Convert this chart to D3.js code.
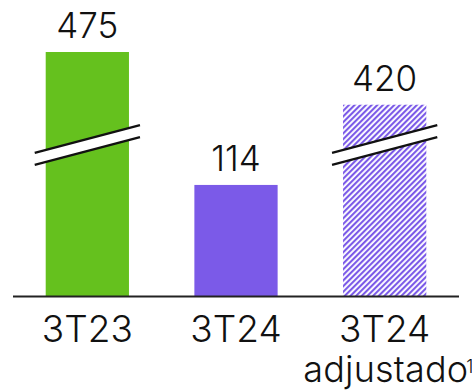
<!DOCTYPE html>
<html><head><meta charset="utf-8">
<script src="https://cdn.jsdelivr.net/npm/d3@7"></script>
<style>
html,body{margin:0;padding:0;background:#fff;}
svg text{font-family:"Inter",sans-serif;font-weight:300;fill:#111;}
</style></head>
<body>
<div id="chart"></div>
<script>
const categories = ["3T23", "3T24", "3T24 adjustado"];
const values = [475, 114, 420];
const barStyles = ["green", "purple", "hatch"];
const broken = [true, false, true];
const tickLines = [["3T23"], ["3T24"], ["3T24", "adjustado"]];
const superscripts = ["", "", "1"];

const W = 472, H = 390;
const svg = d3.select("#chart").append("svg").attr("width", W).attr("height", H);

const defs = svg.append("defs");
const pat = defs.append("pattern").attr("id", "hatch").attr("patternUnits", "userSpaceOnUse")
  .attr("width", 4).attr("height", 4).attr("patternTransform", "rotate(45)");
pat.append("rect").attr("width", 4).attr("height", 4).attr("fill", "#fff");
pat.append("rect").attr("width", 2.1).attr("height", 4).attr("fill", "#7b5ae8");

const colors = {green: "#65c11e", purple: "#7b5ae8", hatch: "url(#hatch)"};

const x = d3.scaleBand().domain(categories).range([13, 459]).paddingInner(0.44).paddingOuter(0.22);
// broken value axis: the segment between 155 and 378 is cut out
const y = d3.scaleLinear().domain([0, 155, 378, 475]).range([296, 145, 145, 52]);
const breakY = y(155);

const g = svg.append("g");
categories.forEach((c, i) => {
  const x0 = x(c), bw = x.bandwidth();
  g.append("rect").attr("x", x0).attr("y", y(values[i])).attr("width", bw)
    .attr("height", y(0) - y(values[i])).attr("fill", colors[barStyles[i]]);
  g.append("text").attr("x", x0 + bw / 2).attr("y", y(values[i]) - 14)
    .attr("text-anchor", "middle").attr("font-size", 35).text(values[i]);
  if (broken[i]) {
    const ext = 11, slope = -0.263, gap = 12;
    const xa = x0 - ext, xb = x0 + bw + ext, xm = x0 + bw / 2;
    const yl = (xx, off) => breakY + off + slope * (xx - xm);
    g.append("path").attr("fill", "#fff")
      .attr("d", `M${xa},${yl(xa,-gap/2)}L${xb},${yl(xb,-gap/2)}L${xb},${yl(xb,gap/2)}L${xa},${yl(xa,gap/2)}Z`);
    [-gap / 2, gap / 2].forEach(off => {
      g.append("line").attr("x1", xa).attr("y1", yl(xa, off)).attr("x2", xb).attr("y2", yl(xb, off))
        .attr("stroke", "#111").attr("stroke-width", 2.2);
    });
  }
});

const axis = svg.append("g").attr("transform", `translate(0,${y(0)})`)
  .call(d3.axisBottom(x).tickSize(0).tickFormat(""));
axis.select(".domain").attr("stroke", "#222").attr("stroke-width", 2).attr("d", "M13,0.5H459");

categories.forEach((c, i) => {
  const cx = x(c) + x.bandwidth() / 2;
  tickLines[i].forEach((ln, j) => {
    const isLast = j === tickLines[i].length - 1;
    const sup = isLast ? superscripts[i] : "";
    const ty = 341.5 + j * 40;
    if (!sup) {
      svg.append("text").attr("x", cx).attr("y", ty).attr("font-size", 37)
        .attr("text-anchor", "middle").text(ln);
    } else {
      const w = 159, supW = 9;
      const left = cx + 2.5 - (w + supW) / 2;
      svg.append("text").attr("x", left).attr("y", ty).attr("font-size", 36)
        .attr("textLength", w + 6).attr("lengthAdjust", "spacing").text(ln);
      svg.append("text").attr("x", left + w + 4).attr("y", ty - 9)
        .attr("font-size", 18).text(sup);
    }
  });
});
</script>
</body></html>
